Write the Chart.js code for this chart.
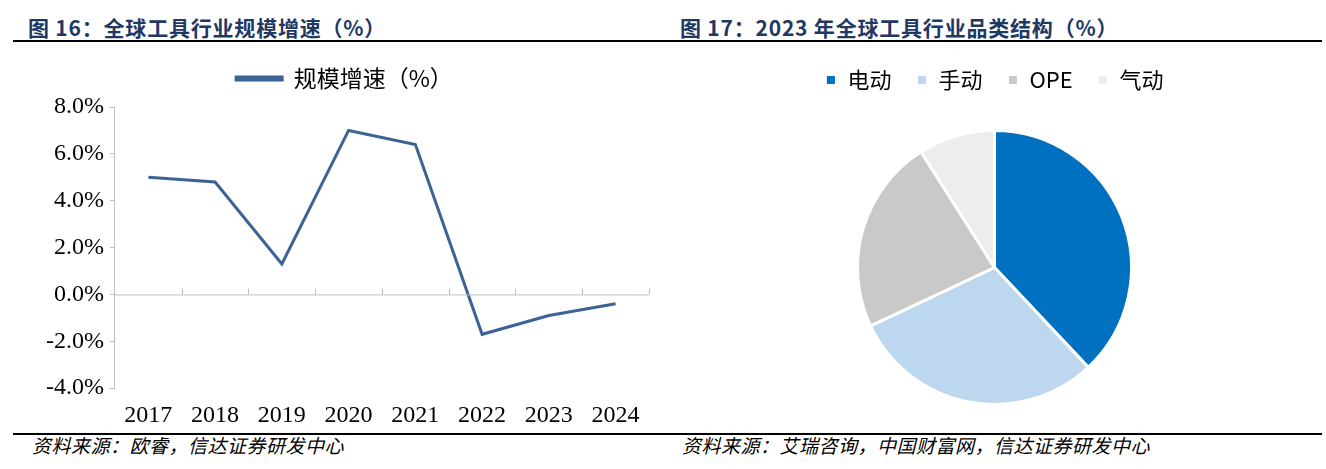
<!DOCTYPE html>
<html>
<head>
<meta charset="utf-8">
<script src="https://cdn.jsdelivr.net/npm/chart.js@4/dist/chart.umd.min.js"></script>
<style>
    body { margin: 0; width: 1326px; height: 469px; background: #fff; position: relative; overflow: hidden; font-family: "Noto Sans CJK SC", sans-serif; }
    .titulo { position: absolute; top: 12px; font-size: 21px; letter-spacing: 0.8px; font-weight: bold; color: #1f3864; white-space: nowrap; }
    .regla { position: absolute; left: 13px; width: 1309px; height: 2px; background: #000; }
    .fuente { position: absolute; font-size: 19px; letter-spacing: 0.5px; font-style: italic; color: #000; white-space: nowrap; }
    .panel { position: absolute; width: 663px; }
</style>
</head>
<body>

<div class="titulo" style="left:28px">图 16：全球工具行业规模增速（%）</div>
<div class="titulo" style="left:680px">图 17：2023 年全球工具行业品类结构（%）</div>
<div class="regla" style="top:40px"></div>
<div class="regla" style="top:433px"></div>
<div class="fuente" style="left:32px; top:431px">资料来源：欧睿，信达证券研发中心</div>
<div class="fuente" style="left:682px; top:431px">资料来源：艾瑞咨询，中国财富网，信达证券研发中心</div>

<div class="panel" style="left:0; top:50px; height:385px"><canvas id="graficaLinea"></canvas></div>
<div class="panel" style="left:663px; top:38px; height:392px"><canvas id="graficaPastel"></canvas></div>

<script>
/* ===============================
   DATOS
================================= */
const anios = ["2017", "2018", "2019", "2020", "2021", "2022", "2023", "2024"];
const crecimiento = [5.0, 4.8, 1.3, 7.0, 6.4, -1.7, -0.9, -0.4];
const nombreSerie = "规模增速（%）";

const categorias = ["电动", "手动", "OPE", "气动"];
const participacion = [38, 30, 23, 9];
const coloresPastel = ["#0070c0", "#bdd7ee", "#c9c9c9", "#ededed"];

const fuenteSerif = "'Liberation Serif', 'Times New Roman', serif";
const fuenteCJK = "'Noto Sans CJK SC', sans-serif";

/* ===============================
   MARCAS DEL EJE X (hacia arriba)
================================= */
const marcasEjeX = {
    id: "marcasEjeX",
    afterDatasetsDraw(chart) {
        const x = chart.scales.x;
        const y = chart.scales.y;
        const ctx = chart.ctx;
        const y0 = y.getPixelForValue(0);
        const paso = x.getPixelForValue(1) - x.getPixelForValue(0);
        ctx.save();
        ctx.strokeStyle = "#bfbfbf";
        ctx.lineWidth = 1;
        ctx.beginPath();
        ctx.moveTo(chart.chartArea.left, y0 + 0.5);
        ctx.lineTo(chart.chartArea.right, y0 + 0.5);
        for (let i = 1; i <= anios.length; i++) {
            let px = Math.round(x.getPixelForValue(i) - paso / 2) + 0.5;
            ctx.moveTo(px, y0);
            ctx.lineTo(px, y0 - 6);
        }
        ctx.stroke();
        ctx.restore();
    }
};

function margenLeyenda(extra) {
    return {
        id: "margenLeyenda",
        beforeInit(chart) {
            const fitOriginal = chart.legend.fit;
            chart.legend.fit = function () {
                fitOriginal.bind(chart.legend)();
                this.height += extra;
            };
        }
    };
}

/* ===============================
   GRAFICA DE LINEA
================================= */
new Chart(document.getElementById("graficaLinea"), {
    type: "line",
    data: {
        labels: anios,
        datasets: [{
            label: nombreSerie,
            data: crecimiento,
            borderColor: "#3d6394",
            backgroundColor: "#3d6394",
            borderWidth: 3,
            pointRadius: 0,
            tension: 0
        }]
    },
    options: {
        responsive: true,
        maintainAspectRatio: false,
        animation: false,
        layout: { padding: { top: 7, right: 14, left: 40, bottom: 0 } },
        plugins: {
            tooltip: { enabled: false },
            legend: {
                labels: {
                    boxWidth: 46,
                    boxHeight: 3,
                    padding: 10,
                    color: "#000",
                    font: { family: fuenteCJK, size: 23 }
                }
            }
        },
        scales: {
            x: {
                offset: true,
                grid: { display: false },
                border: { display: false },
                ticks: { color: "#000", padding: 5, font: { family: fuenteSerif, size: 24 } }
            },
            y: {
                min: -4,
                max: 8,
                ticks: {
                    stepSize: 2,
                    color: "#000",
                    padding: 6,
                    font: { family: fuenteSerif, size: 24 },
                    callback: v => v.toFixed(1) + "%"
                },
                grid: { drawOnChartArea: false, tickLength: 5, tickColor: "#bfbfbf" },
                border: { color: "#bfbfbf" }
            }
        }
    },
    plugins: [marcasEjeX, margenLeyenda(7)]
});

/* ===============================
   GRAFICA DE PASTEL
================================= */
new Chart(document.getElementById("graficaPastel"), {
    type: "pie",
    data: {
        labels: categorias,
        datasets: [{
            data: participacion,
            backgroundColor: coloresPastel,
            borderColor: "#ffffff",
            borderWidth: 3
        }]
    },
    options: {
        responsive: true,
        maintainAspectRatio: false,
        animation: false,
        layout: { padding: { top: 6, bottom: 24 } },
        plugins: {
            tooltip: { enabled: false },
            legend: {
                labels: {
                    boxWidth: 11,
                    boxHeight: 11,
                    padding: 25,
                    color: "#000",
                    font: { family: fuenteCJK, size: 22 }
                }
            }
        }
    },
    plugins: [margenLeyenda(28)]
});
</script>
</body>
</html>
